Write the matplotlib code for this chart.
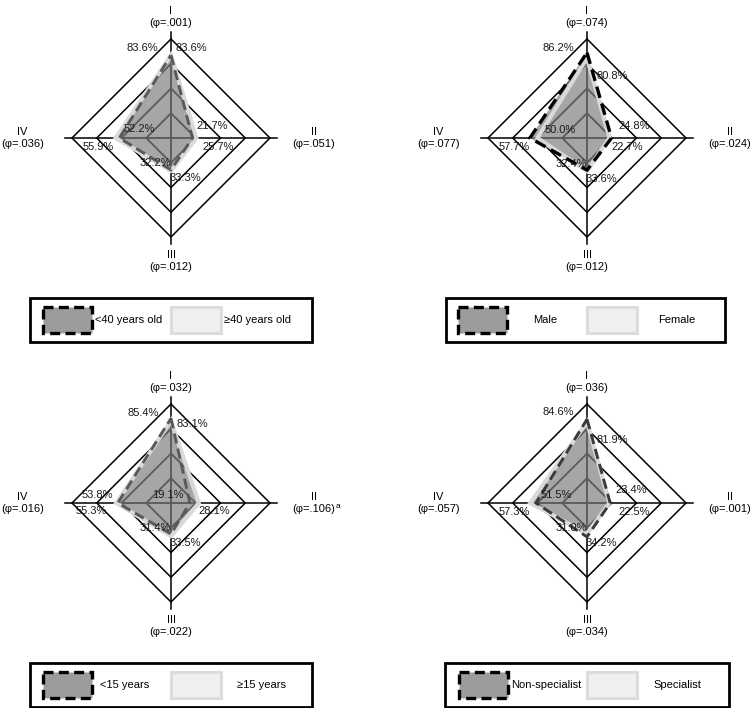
import numpy as np
import matplotlib
matplotlib.use('Agg')
import matplotlib.pyplot as plt
from matplotlib.patches import Polygon, Rectangle

plt.rcParams['font.family'] = ['Liberation Sans', 'DejaVu Sans']

# data (percent), axis order I, II, III, IV
axis_names = ['I', 'II', 'III', 'IV']
rings = [25, 50, 75, 100]

phi_age = ['.001', '.051', '.012', '.036']
phi_sex = ['.074', '.024', '.012', '.077']
phi_years = ['.032', '.106', '.022', '.016']
phi_spec = ['.036', '.001', '.034', '.057']

age_under40 = [83.6, 21.7, 32.2, 52.2]
age_over40 = [83.6, 25.7, 33.3, 55.9]
sex_male = [86.2, 24.8, 32.4, 57.7]
sex_female = [80.8, 22.7, 33.6, 50.0]
years_under15 = [85.4, 19.1, 31.4, 53.8]
years_over15 = [83.1, 28.1, 33.5, 55.3]
spec_non = [84.6, 23.4, 34.2, 51.5]
spec_yes = [81.9, 22.5, 31.0, 57.3]

legend_age = ['<40 years old', '≥40 years old']
legend_sex = ['Male', 'Female']
legend_years = ['<15 years', '≥15 years']
legend_spec = ['Non-specialist', 'Specialist']

# value label offsets from the centre, in pixels (x right, y up)
lab_age = ([(-28.5, 90), (41, 12), (-16, -25), (-31.5, 9)],
           [(20.5, 90), (47, -9), (14, -40), (-73, -9)])
lab_sex = ([(-28.5, 90), (46.8, 12), (-15.7, -25.7), (-72.3, -9)],
           [(24.8, 61.7), (40.2, -9), (14, -40.7), (-26.8, 7.7)])
lab_years = ([(-28.2, 90), (-2.7, 7.7), (-16, -25), (-73.5, 7.7)],
             [(21.5, 79), (43.5, -8.3), (14, -40), (-80.2, -8.3)])
lab_spec = ([(-28.5, 90.7), (44, 13.3), (14, -40), (-30.8, 7.7)],
            [(24.8, 62.7), (46.8, -9), (-15.7, -25), (-72.7, -9)])

W, H = 753, 708
K = 0.99  # pixels per percent
ang = np.deg2rad([90, 0, -90, 180])
ca, sa = np.round(np.cos(ang), 6), np.round(np.sin(ang), 6)

fig = plt.figure(figsize=(W / 100, H / 100), dpi=100)


def panel_axes(left, right, top, bottom, cx, cy):
    ax = fig.add_axes([left / W, 1 - bottom / H, (right - left) / W, (bottom - top) / H])
    ax.set_xlim((left - cx) / K, (right - cx) / K)
    ax.set_ylim((cy - bottom) / K, (cy - top) / K)
    ax.axis('off')
    return ax


def grid(ax, color, z, clip=None):
    for r in rings:
        ln, = ax.plot(np.append(r * ca, r * ca[0]), np.append(r * sa, r * sa[0]),
                      color=color, lw=1.1, zorder=z, solid_joinstyle='miter')
        if clip is not None:
            ln.set_clip_path(clip)
    for c, s in zip(ca, sa):
        ln, = ax.plot([0, 107 * c], [0, 107 * s], color=color, lw=1.1, zorder=z)
        if clip is not None:
            ln.set_clip_path(clip)


def radar(ax, vals_a, vals_b, phis, labs, dash_color, dash_lw=2.1, note=None):
    vals_a, vals_b = np.array(vals_a), np.array(vals_b)
    grid(ax, 'black', 1)
    pa = np.column_stack([vals_a * ca, vals_a * sa])
    pb = np.column_stack([vals_b * ca, vals_b * sa])
    fills = []
    for p in (pa, pb):
        f = Polygon(p, closed=True, fc='#a6a6a6', ec='none', zorder=2)
        ax.add_patch(f)
        fills.append(f)
    for f in fills:
        grid(ax, '#5c5c5c', 3, clip=f)
    ax.add_patch(Polygon(pb, closed=True, fill=False, ec='#d9d9d9', lw=3.0,
                         zorder=4, joinstyle='miter'))
    ax.add_patch(Polygon(pa, closed=True, fill=False, ec=dash_color, lw=dash_lw,
                         ls=(0, (3.5, 1.8)), zorder=5, joinstyle='miter'))

    for vals, offs in zip((vals_a, vals_b), labs):
        for v, (dx, dy) in zip(vals, offs):
            ax.text(dx / K, dy / K, f'{v:.1f}%', fontsize=8, color='#1a1a1a',
                    ha='center', va='center', zorder=6)

    ax.text(0, 111, f'{axis_names[0]}\n(φ={phis[0]})', ha='center', va='bottom',
            fontsize=8, linespacing=1.25)
    ax.text(144.5, 0, f'{axis_names[1]}\n(φ={phis[1]})', ha='center', va='center',
            fontsize=8, linespacing=1.25)
    ax.text(0, -113, f'{axis_names[2]}\n(φ={phis[2]})', ha='center', va='top',
            fontsize=8, linespacing=1.25)
    ax.text(-150, 0, f'{axis_names[3]}\n(φ={phis[3]})', ha='center', va='center',
            fontsize=8, linespacing=1.25)
    if note:
        ax.text(169, -4, note, ha='center', va='center', fontsize=6)


# overlay in pixel coordinates for the legend boxes
lay = fig.add_axes([0, 0, 1, 1])
lay.set_xlim(0, W)
lay.set_ylim(H, 0)
lay.axis('off')


def legend_box(x0, x1, y0, y1, names, sw_x, txt_x):
    lay.add_patch(Rectangle((x0, y0), x1 - x0, y1 - y0, fill=False, ec='black', lw=2.0))
    ym = (y0 + y1) / 2
    lay.add_patch(Rectangle((sw_x[0], ym - 13), 49, 26, fc='#9c9c9c', ec='black',
                            lw=2.4, ls=(0, (3, 1.6))))
    lay.add_patch(Rectangle((sw_x[1], ym - 13), 50, 26, fc='#f0f0f0', ec='#dcdcdc', lw=2.2))
    for name, tx in zip(names, txt_x):
        lay.text(tx, ym, name, fontsize=8, ha='left', va='center')


ax1 = panel_axes(0, 376, 0, 292, 171, 138)
radar(ax1, age_under40, age_over40, phi_age, lab_age, '#595959')
legend_box(30, 312, 298, 342, legend_age, (43, 171), (95, 224))

ax2 = panel_axes(376, 753, 0, 292, 587, 138)
radar(ax2, sex_male, sex_female, phi_sex, lab_sex, 'black', dash_lw=2.4)
legend_box(446, 725, 298, 342, legend_sex, (458, 587), (533, 658))

ax3 = panel_axes(0, 376, 345, 660, 171, 503)
radar(ax3, years_under15, years_over15, phi_years, lab_years, '#595959', note='a')
legend_box(30, 312, 663, 707, legend_years, (43, 171), (100, 237))

ax4 = panel_axes(376, 753, 345, 660, 587, 503)
radar(ax4, spec_non, spec_yes, phi_spec, lab_spec, '#3a3a3a')
legend_box(445, 729, 663, 707, legend_spec, (459, 587), (511, 653))

fig.savefig('out.png', dpi=100)
